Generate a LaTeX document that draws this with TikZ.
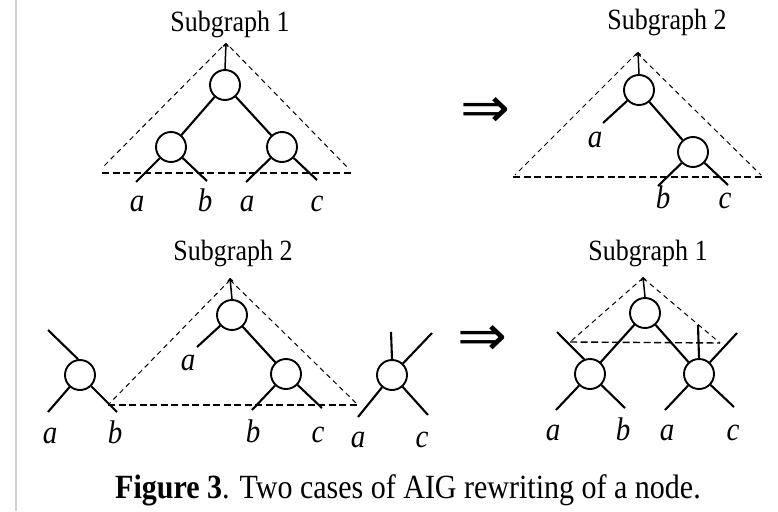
\documentclass[tikz,border=0pt]{standalone}
\usepackage{fontspec}
\setmainfont{Liberation Serif}
\newfontfamily\symfont{DejaVu Sans}
\usepackage{graphicx}
\usetikzlibrary{arrows.meta}
\newcommand{\vtxt}[1]{\scalebox{1}[1.13]{#1}}
\begin{document}
\begin{tikzpicture}[x=1pt,y=-1pt,
  gate/.style={circle,draw,line width=1.9pt,minimum size=30pt,inner sep=0pt},
  wire/.style={line width=2.1pt},
  outarr/.style={line width=1.5pt,-{To[length=4pt,width=6pt]}},
  tri/.style={dash pattern=on 5pt off 4pt,line width=1pt},
  basel/.style={dash pattern=on 7pt off 3.5pt,line width=1.4pt},
  lab/.style={font=\fontsize{29}{30}\selectfont\itshape,anchor=base,inner sep=0pt},
  ttl/.style={font=\fontsize{26}{30}\selectfont,anchor=base,inner sep=0pt},
  imp/.style={inner sep=0pt}]
\useasboundingbox (0,0) rectangle (778,511);
\draw[line width=1.5pt,black!18] (16,0) -- (16,511);

% ---------- top left: Subgraph 1 ----------
\node[ttl] (t1) at (230,32) {\vtxt{Subgraph 1}};
\node[gate] (A) at (225,85) {};
\node[gate] (B) at (171,147) {};
\node[gate] (C) at (282,147) {};
\coordinate (Ao) at (226,43);
\coordinate (Ba) at (136,182); \coordinate (Bb) at (207,181);
\coordinate (Ca) at (246,182); \coordinate (Cc) at (317,180);
\draw[outarr] (A.north) -- (Ao);
\draw[wire] (A) -- (B); \draw[wire] (A) -- (C);
\draw[wire] (B) -- (Ba); \draw[wire] (B) -- (Bb);
\draw[wire] (C) -- (Ca); \draw[wire] (C) -- (Cc);
\coordinate (T1l) at (102,168); \coordinate (T1r) at (348,168);
\coordinate (T1al) at (222,47); \coordinate (T1ar) at (230,47);
\draw[tri] (T1al) -- (T1l); \draw[tri] (T1ar) -- (T1r);
\coordinate (B1l) at (102,173); \coordinate (B1r) at (352,173);
\draw[basel] (B1l) -- (B1r);
\node[lab] (l1) at (137,211) {\vtxt{a}};
\node[lab] (l2) at (205,211) {\vtxt{b}};
\node[lab] (l3) at (247,211) {\vtxt{a}};
\node[lab] (l4) at (317,211) {\vtxt{c}};

% ---------- implication arrows ----------
\node[imp] (imp1) at (485,112) {\resizebox{50pt}{30pt}{\symfont ⇒}};
\node[imp] (imp2) at (482,340) {\resizebox{50pt}{30pt}{\symfont ⇒}};

% ---------- top right: Subgraph 2 ----------
\node[ttl] (t2) at (667,30) {\vtxt{Subgraph 2}};
\node[gate] (D) at (639,90) {};
\node[gate] (E) at (693,152) {};
\coordinate (Do) at (638,52);
\coordinate (Da) at (603,123);
\coordinate (Eb) at (658,186); \coordinate (Ec) at (728,185);
\draw[outarr] (D.north) -- (Do);
\draw[wire] (D) -- (E); \draw[wire] (D) -- (Da);
\draw[wire] (E) -- (Eb); \draw[wire] (E) -- (Ec);
\coordinate (T2a) at (637,53);
\coordinate (T2l) at (515,175); \coordinate (T2r) at (761,175);
\draw[tri] (T2a) -- (T2l); \draw[tri] (T2a) -- (T2r);
\coordinate (B2l) at (513,177); \coordinate (B2r) at (765,177);
\draw[basel] (B2l) -- (B2r);
\node[lab] (l5) at (595,147) {\vtxt{a}};
\node[lab] (l6) at (663,208) {\vtxt{b}};
\node[lab] (l7) at (725,208) {\vtxt{c}};

% ---------- bottom left ----------
\node[ttl] (t3) at (233,260) {\vtxt{Subgraph 2}};
\node[gate] (F) at (232,315) {};
\node[gate] (G) at (286,374) {};
\node[gate] (H) at (80,375) {};
\node[gate] (K) at (392,375) {};
\coordinate (Fo) at (230,278);
\coordinate (Fa) at (197,347);
\coordinate (Gb) at (252,410); \coordinate (Gc) at (322,408);
\draw[outarr] (F.north) -- (Fo);
\draw[wire] (F) -- (G); \draw[wire] (F) -- (Fa);
\draw[wire] (G) -- (Gb); \draw[wire] (G) -- (Gc);
\coordinate (Hu) at (48,330);
\coordinate (Ha) at (48,412); \coordinate (Hb) at (117,412);
\draw[wire] (Hu) -- (H.97);
\draw[wire] (H) -- (Ha); \draw[wire] (H) -- (Hb);
\coordinate (Ku) at (391,332); \coordinate (Kr) at (432,333);
\coordinate (Ka) at (358,417); \coordinate (Kc) at (428,415);
\draw[wire] (Ku) -- (K.north);
\draw[wire] (Kr) -- (K);
\draw[wire] (K) -- (Ka); \draw[wire] (K) -- (Kc);
\coordinate (T3a) at (230,280);
\coordinate (T3l) at (110,403); \coordinate (T3r) at (357,404);
\draw[tri] (T3a) -- (T3l); \draw[tri] (T3a) -- (T3r);
\coordinate (B3l) at (108,405); \coordinate (B3r) at (358,405);
\draw[basel] (B3l) -- (B3r);
\node[lab] (l8) at (50,443) {\vtxt{a}};
\node[lab] (l9) at (115,443) {\vtxt{b}};
\node[lab] (l10) at (188,370) {\vtxt{a}};
\node[lab] (l11) at (253,442) {\vtxt{b}};
\node[lab] (l12) at (318,442) {\vtxt{c}};
\node[lab] (l13) at (358,447) {\vtxt{a}};
\node[lab] (l14) at (422,447) {\vtxt{c}};

% ---------- bottom right: Subgraph 1 ----------
\node[ttl] (t4) at (648,260) {\vtxt{Subgraph 1}};
\node[gate] (P) at (645,313) {};
\node[gate] (Q) at (590,374) {};
\node[gate] (R) at (699,374) {};
\coordinate (Po) at (643,277);
\draw[outarr] (P.north) -- (Po);
\draw[wire] (P) -- (Q); \draw[wire] (P) -- (R);
\coordinate (Qu) at (557,332);
\coordinate (Qa) at (556,410); \coordinate (Qb) at (625,408);
\draw[wire] (Qu) -- (Q.112);
\draw[wire] (Q) -- (Qa); \draw[wire] (Q) -- (Qb);
\coordinate (Ru) at (698,325); \coordinate (Rr) at (737,333);
\coordinate (Ra) at (665,410); \coordinate (Rc) at (734,407);
\draw[wire] (Ru) -- (R.north);
\draw[wire] (Rr) -- (R);
\draw[wire] (R) -- (Ra); \draw[wire] (R) -- (Rc);
\coordinate (T4a) at (643,278);
\coordinate (T4l) at (570,342); \coordinate (T4r) at (720,343);
\draw[tri] (T4a) -- (T4l); \draw[tri] (T4a) -- (T4r);
\draw[basel] (T4l) -- (T4r);
\node[lab] (l15) at (553,440) {\vtxt{a}};
\node[lab] (l16) at (623,440) {\vtxt{b}};
\node[lab] (l17) at (667,440) {\vtxt{a}};
\node[lab] (l18) at (733,440) {\vtxt{c}};

% ---------- caption ----------
\node[anchor=base,inner sep=0pt,font=\fontsize{30}{34}\selectfont] (cap) at (408,498)
  {\vtxt{\textbf{Figure 3}. Two cases of AIG rewriting of a node.}};
\end{tikzpicture}
\end{document}
